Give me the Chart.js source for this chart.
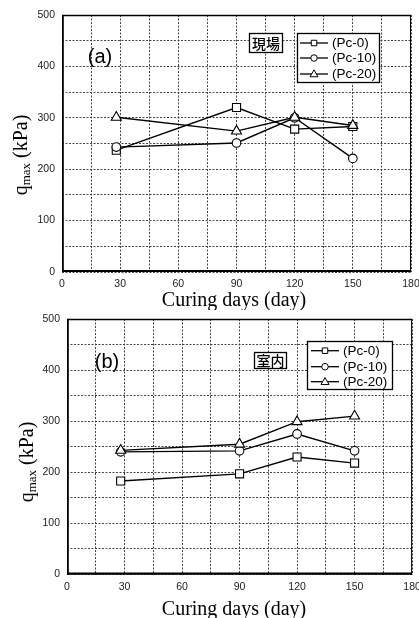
<!DOCTYPE html>
<html><head><meta charset="utf-8">
<script src="https://cdn.jsdelivr.net/npm/chart.js@4.4.1/dist/chart.umd.min.js"></script>
<style>
body{margin:0;background:#fff;width:419px;height:618px;overflow:hidden;position:relative}
canvas{position:absolute;left:0}
#ca{top:0}#cb{top:310px}
</style></head><body>
<canvas id="ca" width="419" height="310"></canvas>
<canvas id="cb" width="419" height="308"></canvas>
<script>
// ---- data ----
const days = [28, 90, 120, 150];
const seriesLabels = ['(Pc-0)', '(Pc-10)', '(Pc-20)'];
const seriesMarkers = ['rect', 'circle', 'triangle'];
// panel (a) 現場
const fieldPc0  = [237, 320, 278, 283];
const fieldPc10 = [243, 251, 300, 221];
const fieldPc20 = [301, 274, 301, 285];
// panel (b) 室内
const labPc0  = [183, 197, 230, 218];
const labPc10 = [240, 242, 275, 242];
const labPc20 = [243, 255, 299, 310];
const xTickLabels = [0, 30, 60, 90, 120, 150, 180];
const yTickLabels = [0, 100, 200, 300, 400, 500];
const xTitle = 'Curing days (day)';
const yTitleMain = 'q', yTitleSub = 'max', yTitleRest = ' (kPa)';

const SANS = '"Liberation Sans", Arial, sans-serif';
const SERIF = '"Liberation Serif", "Times New Roman", serif';
const CJK = '"Noto Sans CJK JP", "Noto Sans CJK SC", sans-serif';
const pointRadii = [5.7, 4.3, 5.8];
const drawOrder = [2, 1, 0];

function drawMarker(ctx, style, x, y, s) {
  ctx.beginPath();
  if (style === 'rect') {
    ctx.rect(x - s / 2, y - s / 2, s, s);
  } else if (style === 'circle') {
    ctx.arc(x, y, s / 2, 0, Math.PI * 2);
  } else {
    const h = s * 0.87;
    ctx.moveTo(x, y - h * 0.6);
    ctx.lineTo(x + s / 2, y + h * 0.4);
    ctx.lineTo(x - s / 2, y + h * 0.4);
    ctx.closePath();
  }
  ctx.fillStyle = '#fff';
  ctx.fill();
  ctx.lineWidth = 1;
  ctx.strokeStyle = '#000';
  ctx.stroke();
}

function makePanel(canvasId, cfg) {
  const canvas = document.getElementById(canvasId);
  const H = canvas.height, W = canvas.width;
  const A = cfg.area;
  const datasets = cfg.series.map((vals, i) => ({
    label: seriesLabels[i],
    data: days.map((d, j) => ({ x: d, y: vals[j] })),
    order: drawOrder[i],
    borderColor: '#000',
    borderWidth: 1.4,
    pointStyle: seriesMarkers[i],
    pointRadius: pointRadii[i],
    pointHoverRadius: pointRadii[i],
    pointBackgroundColor: '#fff',
    pointBorderColor: '#000',
    pointBorderWidth: 1.1,
    tension: 0,
    fill: false
  }));

  const decor = {
    id: 'decor' + canvasId,
    afterDatasetsDraw(chart) {
      const ctx = chart.ctx;
      const ca = chart.chartArea;
      ctx.save();
      // frame
      ctx.strokeStyle = '#000';
      ctx.lineWidth = 1;
      ctx.strokeRect(ca.left + 0.5, ca.top + 0.5, ca.right - ca.left - 1, ca.bottom - ca.top - 1);
      ctx.lineWidth = 1.6;
      ctx.beginPath(); ctx.moveTo(ca.left + 1, ca.top); ctx.lineTo(ca.left + 1, ca.bottom); ctx.stroke();
      ctx.beginPath(); ctx.moveTo(ca.left, ca.top + 0.5); ctx.lineTo(ca.right, ca.top + 0.5); ctx.stroke();
      ctx.lineWidth = 2;
      ctx.beginPath(); ctx.moveTo(ca.left, ca.bottom - 1); ctx.lineTo(ca.right, ca.bottom - 1); ctx.stroke();

      // panel letter
      ctx.fillStyle = '#000';
      ctx.font = '20px ' + SANS;
      ctx.textAlign = 'center';
      ctx.textBaseline = 'middle';
      ctx.fillText(cfg.letter, cfg.letterPos[0], cfg.letterPos[1]);

      // tag box
      const t = cfg.tagBox;
      ctx.fillStyle = '#fff';
      ctx.fillRect(t.x0, t.y0, t.x1 - t.x0, t.y1 - t.y0);
      ctx.lineWidth = 1.3;
      ctx.strokeStyle = '#000';
      ctx.strokeRect(t.x0 + 0.5, t.y0 + 0.5, t.x1 - t.x0 - 1, t.y1 - t.y0 - 1);
      ctx.fillStyle = '#000';
      ctx.font = '500 14px ' + CJK;
      ctx.textAlign = 'center';
      ctx.textBaseline = 'middle';
      ctx.fillText(cfg.tag, (t.x0 + t.x1) / 2, (t.y0 + t.y1) / 2 + 0.5);

      // legend
      const L = cfg.legend;
      ctx.fillStyle = '#fff';
      ctx.fillRect(L.x0, L.y0, L.x1 - L.x0, L.y1 - L.y0);
      ctx.lineWidth = 1.3;
      ctx.strokeStyle = '#000';
      ctx.strokeRect(L.x0 + 0.5, L.y0 + 0.5, L.x1 - L.x0 - 1, L.y1 - L.y0 - 1);
      chart.data.datasets.forEach((ds, i) => {
        const y = L.rows[i];
        ctx.strokeStyle = '#000';
        ctx.lineWidth = 1.3;
        ctx.beginPath(); ctx.moveTo(L.lx0, y); ctx.lineTo(L.lx1, y); ctx.stroke();
        drawMarker(ctx, ds.pointStyle, (L.lx0 + L.lx1) / 2, y, ds.pointStyle === 'triangle' ? 8 : (ds.pointStyle === 'circle' ? 6.5 : 5.5));
        ctx.fillStyle = '#000';
        ctx.font = '13.5px ' + SANS;
        ctx.textAlign = 'left';
        ctx.textBaseline = 'middle';
        ctx.fillText(ds.label, L.tx, y + 0.5);
      });

      // x axis title
      ctx.fillStyle = '#000';
      ctx.font = '20px ' + SERIF;
      ctx.textAlign = 'center';
      ctx.textBaseline = 'alphabetic';
      ctx.fillText(xTitle, cfg.xTitlePos[0], cfg.xTitlePos[1]);

      // y axis title (rotated, with subscript)
      ctx.translate(cfg.yTitlePos[0], cfg.yTitlePos[1]);
      ctx.rotate(-Math.PI / 2);
      const fMain = '20px ' + SERIF, fSub = '13px ' + SERIF;
      ctx.font = fMain; const w1 = ctx.measureText(yTitleMain).width;
      const w3 = ctx.measureText(yTitleRest).width;
      ctx.font = fSub; const w2 = ctx.measureText(yTitleSub).width;
      let x = -(w1 + w2 + w3) / 2;
      ctx.textAlign = 'left';
      ctx.textBaseline = 'alphabetic';
      ctx.font = fMain; ctx.fillText(yTitleMain, x, 7); x += w1;
      ctx.font = fSub; ctx.fillText(yTitleSub, x, 10); x += w2;
      ctx.font = fMain; ctx.fillText(yTitleRest, x, 7);
      ctx.restore();
    }
  };

  return new Chart(canvas, {
    type: 'line',
    data: { datasets },
    options: {
      responsive: false,
      animation: false,
      events: [],
      layout: { padding: { left: 0, right: W - A.right, top: A.top, bottom: 0 } },
      plugins: { legend: { display: false }, tooltip: { enabled: false }, title: { display: false } },
      scales: {
        x: {
          type: 'linear', min: 0, max: 180,
          afterFit(s) { s.height = H - A.bottom; s.paddingLeft = 0; s.paddingRight = 0; },
          border: { display: false, dash: [2, 1.5] },
          grid: { color: '#444', lineWidth: 1, drawTicks: false },
          ticks: {
            stepSize: 15, autoSkip: false, maxRotation: 0, padding: 6,
            color: '#222', font: { family: SANS, size: 10.5 },
            callback: v => xTickLabels.includes(v) ? String(v) : ''
          }
        },
        y: {
          type: 'linear', min: 0, max: 500,
          afterFit(s) { s.width = A.left; s.paddingTop = 0; s.paddingBottom = 0; },
          border: { display: false, dash: [2, 1.5] },
          grid: { color: '#444', lineWidth: 1, drawTicks: false },
          ticks: {
            stepSize: 50, autoSkip: false, padding: 7,
            color: '#222', font: { family: SANS, size: 10.5 },
            callback: v => yTickLabels.includes(v) ? String(v) : ''
          }
        }
      }
    },
    plugins: [decor]
  });
}

makePanel('ca', {
  series: [fieldPc0, fieldPc10, fieldPc20],
  area: { left: 62, right: 411, top: 15, bottom: 272 },
  letter: '(a)', letterPos: [100, 57],
  tag: '現場', tagBox: { x0: 249, y0: 33, x1: 283, y1: 53 },
  legend: { x0: 297, y0: 33, x1: 380, y1: 83, rows: [43, 58, 74], lx0: 300, lx1: 328, tx: 332 },
  xTitlePos: [234, 306], yTitlePos: [20, 155]
});
makePanel('cb', {
  series: [labPc0, labPc10, labPc20],
  area: { left: 67, right: 413, top: 9, bottom: 264.5 },
  letter: '(b)', letterPos: [107, 52],
  tag: '室内', tagBox: { x0: 254, y0: 42, x1: 287, y1: 59 },
  legend: { x0: 307, y0: 31, x1: 393, y1: 80, rows: [40.7, 56.7, 71.7], lx0: 311, lx1: 339, tx: 343 },
  xTitlePos: [234, 305], yTitlePos: [26, 152]
});
</script>
</body></html>
